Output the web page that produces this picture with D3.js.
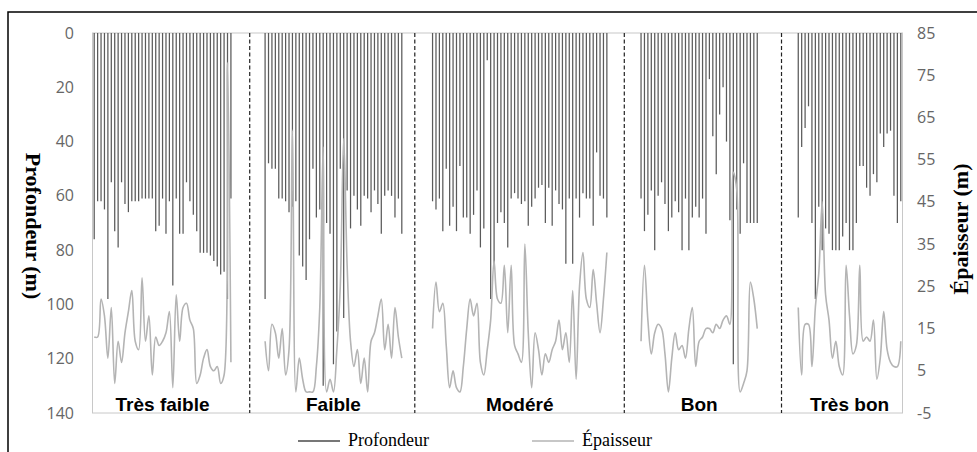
<html>
<head>
<meta charset="utf-8">
<script src="https://cdn.jsdelivr.net/npm/d3@7"></script>
<style>
  body{ margin:0; background:#fff; }
  .tick-l, .tick-r{ font-family:"Open Sans", sans-serif; font-size:16px; fill:#666; }
  .ttl{ font-family:"Liberation Serif", serif; font-weight:bold; font-size:22px; fill:#000; }
  .grp{ font-family:"Liberation Sans", sans-serif; font-weight:bold; font-size:19px; fill:#000; }
  .leg{ font-family:"Liberation Serif", serif; font-size:18px; fill:#000; }
</style>
</head>
<body>
<svg id="chart" width="977" height="452"></svg>
<script>
// groups of wells, left to right
const groups = ["Très faible", "Faible", "Modéré", "Bon", "Très bon"];
// empty slots before each group on the category axis
const gapBefore = [0, 9, 8, 9, 11];
// dashed separators, in slot units
const separators = [46, 94.3, 155.6, 201.6];

// Profondeur (m), one value per well
const depthTF = [76,62,62,65,98,55,73,79,55,63, 66,62,62,62,61,61,61,61,73,71, 61,74,62,93,61,74,74,55,62,67, 73,81,81,81,82,84,86,89,88,98, 61];
const depthF  = [98,48,50,50,61,61,62,66,64,62, 82,86,91,76,50,68,65,130,70,74, 122,110,50,105,58,72,60,65,71,60, 61,66,58,63,74,60,58,60,68,61, 74];
const depthM  = [62,65,61,73,50,71,64,73,49,68, 68,74,67,58,79,72,10,98,85,70, 66,70,79,61,59,61,63,62,71,64, 61,57,56,70,57,71,58,63,65,85, 61,85,61,68,59,61,61,71,44,60, 61,68];
const depthB  = [61,73,67,58,80,60,55,63,73,68, 62,66,80,61,80,68,64,68,61,74, 17,38,52,30,20,40,69,122,65,74, 48,70,70,70,70];
const depthTB = [68,42,35,27,70,98,64,80,72,74, 80,80,80,75,70,80,80,70,49,49, 57,60,52,55,37,42,37,36,60,70, 62];

// Épaisseur (m), one value per well
const thickTF = [13,13,22,18,8,20,2,12,7,14, 19,24,12,10,27,12,18,4,13,11, 12,14,19,1,23,12,20,21,17,15, 2,4,8,10,6,5,6,2,4,78, 7];
const thickF  = [12,5,16,14,8,15,4,10,62,0, 8,3,0,0,0,6,20,58,0,3, 0,10,25,60,30,12,6,10,2,8, 0,12,14,18,22,10,16,8,20,13, 8];
const thickM  = [15,26,19,21,11,1,5,1,0,6, 15,22,18,21,7,4,10,17,31,22, 21,30,14,30,11,9,7,35,14,1, 14,10,4,9,7,10,12,17,10,14, 7,24,3,25,33,22,20,29,21,14, 22,33];
const thickB  = [12,30,17,9,14,16,15,9,0,8, 14,10,11,8,15,20,6,12,13,15, 15,14,16,15,17,18,16,52,48,0, 2,5,26,22,15];
const thickTB = [20,4,16,16,6,20,28,45,23,17, 8,12,6,4,30,18,9,11,30,12, 13,12,17,3,8,19,10,7,6,6, 12];

const depths = [depthTF, depthF, depthM, depthB, depthTB];
const thicks = [thickTF, thickF, thickM, thickB, thickTB];

const leftTicks = [0, 20, 40, 60, 80, 100, 120, 140];
const rightTicks = [85, 75, 65, 55, 45, 35, 25, 15, 5, -5];

// build per-well records with their slot on the category axis
let slot = 0;
const wells = [];
const groupSlots = [];
groups.forEach((g, gi) => {
  slot += gapBefore[gi];
  const start = slot;
  depths[gi].forEach((d, i) => {
    wells.push({group: gi, slot: slot, depth: d, thick: thicks[gi][i]});
    slot++;
  });
  groupSlots.push([start, slot]);
});
const nSlots = slot;

const svg = d3.select("#chart");
const L = 92.5, R = 902.5, T = 33, B = 413;

const x = d3.scaleLinear().domain([0, nSlots]).range([L, R]);
const yD = d3.scaleLinear().domain([0, 140]).range([T, B]);
const yE = d3.scaleLinear().domain([-5, 85]).range([B, T]);

// outer frame
svg.append("rect").attr("x", 8).attr("y", 12).attr("width", 990).attr("height", 470)
  .attr("fill", "none").attr("stroke", "#000").attr("stroke-width", 1.5);

// plot area border
svg.append("rect").attr("x", L).attr("y", T).attr("width", R - L).attr("height", B - T)
  .attr("fill", "none").attr("stroke", "#c8c8c8").attr("stroke-width", 1);

// depth spikes
svg.append("g").selectAll("line").data(wells).join("line")
  .attr("x1", d => x(d.slot + 0.5)).attr("x2", d => x(d.slot + 0.5))
  .attr("y1", yD(0)).attr("y2", d => yD(d.depth))
  .attr("stroke", "#5a5a5a").attr("stroke-width", 1.25);

// thickness curves, one per group
const line = d3.line()
  .x(d => x(d.slot + 0.5))
  .y(d => yE(d.thick))
  .curve(d3.curveCatmullRom.alpha(0.5));
groups.forEach((g, gi) => {
  svg.append("path").datum(wells.filter(w => w.group === gi))
    .attr("d", line).attr("fill", "none")
    .attr("stroke", "#b4b4b4").attr("stroke-width", 1.6);
});

// dashed separators
svg.append("g").selectAll("line").data(separators).join("line")
  .attr("x1", d => x(d)).attr("x2", d => x(d))
  .attr("y1", T).attr("y2", B)
  .attr("stroke", "#222").attr("stroke-width", 1.2).attr("stroke-dasharray", "4,2.5");

// group labels
svg.append("g").selectAll("text").data(groups).join("text")
  .attr("class", "grp")
  .attr("x", (d, i) => x((groupSlots[i][0] + groupSlots[i][1]) / 2))
  .attr("y", 411).attr("text-anchor", "middle").text(d => d);

// left axis labels
svg.append("g").selectAll("text").data(leftTicks).join("text")
  .attr("class", "tick-l").attr("x", 74).attr("y", d => yD(d))
  .attr("dy", "0.35em").attr("text-anchor", "end").text(d => d);

// right axis labels
svg.append("g").selectAll("text").data(rightTicks).join("text")
  .attr("class", "tick-r").attr("x", 917).attr("y", d => yE(d))
  .attr("dy", "0.35em").attr("text-anchor", "start").text(d => d);

// axis titles
svg.append("text").attr("class", "ttl")
  .attr("transform", "translate(26,226) rotate(90)")
  .attr("text-anchor", "middle").text("Profondeur (m)");
svg.append("text").attr("class", "ttl")
  .attr("transform", "translate(968,229) rotate(-90)")
  .attr("text-anchor", "middle").text("Épaisseur (m)");

// legend
const legend = [{name: "Profondeur", color: "#4a4a4a", x: 298}, {name: "Épaisseur", color: "#b4b4b4", x: 532}];
const lg = svg.append("g").selectAll("g").data(legend).join("g");
lg.append("line").attr("x1", d => d.x).attr("x2", d => d.x + 42)
  .attr("y1", 441).attr("y2", 441).attr("stroke", d => d.color).attr("stroke-width", 1.5);
lg.append("text").attr("class", "leg").attr("x", d => d.x + 50).attr("y", 446).text(d => d.name);
</script>
</body>
</html>
